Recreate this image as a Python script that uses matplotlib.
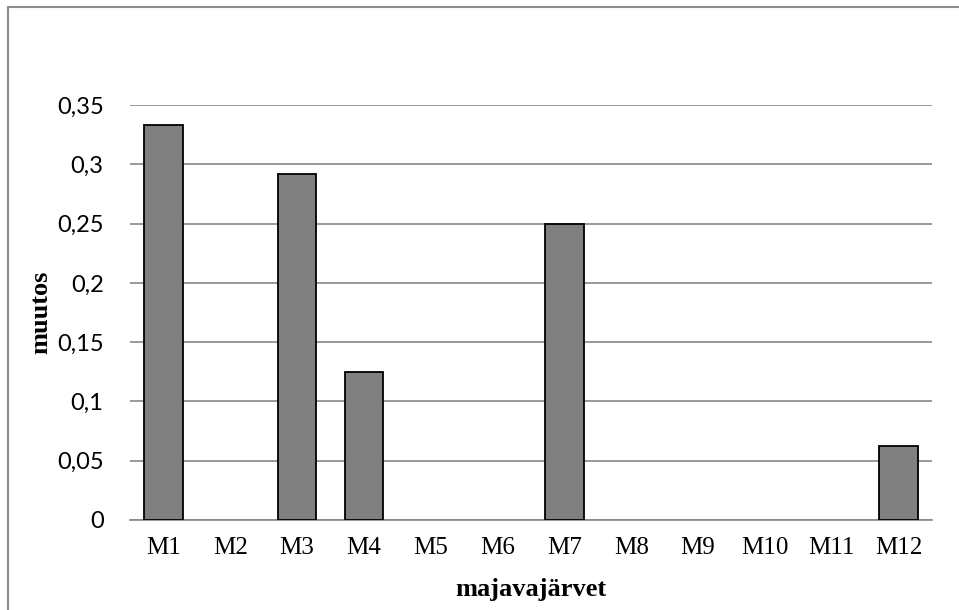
import matplotlib.pyplot as plt
from matplotlib.patches import Rectangle
from matplotlib.ticker import FuncFormatter

lakes = ["M1", "M2", "M3", "M4", "M5", "M6", "M7", "M8", "M9", "M10", "M11", "M12"]
change = [0.3333, 0, 0.2917, 0.125, 0, 0, 0.25, 0, 0, 0, 0, 0.0625]
yticks = [0, 0.05, 0.1, 0.15, 0.2, 0.25, 0.3, 0.35]

fig = plt.figure(figsize=(9.59, 6.10), dpi=100)
# chart frame, open to the right and bottom edges
fig.patches.append(Rectangle((8 / 959, -0.1), 1.2, 1 - 6.5 / 610 + 0.1,
                             transform=fig.transFigure, fill=False,
                             edgecolor="#8c8c8c", linewidth=1.5))

ax = fig.add_axes([130 / 959, 1 - 520 / 610, (932 - 130) / 959, (520 - 105) / 610])
x = range(len(lakes))
# empty categories get no outline
edges = ["black" if v > 0 else "none" for v in change]
ax.bar(x, change, width=0.58, color="#808080", edgecolor=edges, linewidth=1.3, zorder=3)

ax.set_xlim(-0.5, len(lakes) - 0.5)
ax.set_ylim(0, 0.35)
ax.set_yticks(yticks)
ax.yaxis.set_major_formatter(FuncFormatter(lambda v, p: ("%g" % round(v, 2)).replace(".", ",")))
ax.grid(axis="y", color="#888888", linewidth=1.2, zorder=0)
for s in ["top", "right", "left"]:
    ax.spines[s].set_visible(False)
ax.spines["bottom"].set_color("#888888")
ax.spines["bottom"].set_linewidth(1.2)
ax.tick_params(axis="both", length=0)
ax.tick_params(axis="y", pad=19)
ax.tick_params(axis="x", pad=12)

ax.set_xticks(list(x))
ax.set_xticklabels(lakes, family="Liberation Serif", fontsize=18)
for lbl in ax.get_yticklabels():
    lbl.set_family("Lato")
    lbl.set_fontsize(17)

ax.set_xlabel("majavajärvet", family="Liberation Serif", fontweight="bold", fontsize=19)
ax.set_ylabel("muutos", family="Liberation Serif", fontweight="bold", fontsize=19)
ax.xaxis.set_label_coords(0.5, -0.14)
ax.yaxis.set_label_coords(-0.097, 0.5)

fig.savefig("out.png", dpi=100)
